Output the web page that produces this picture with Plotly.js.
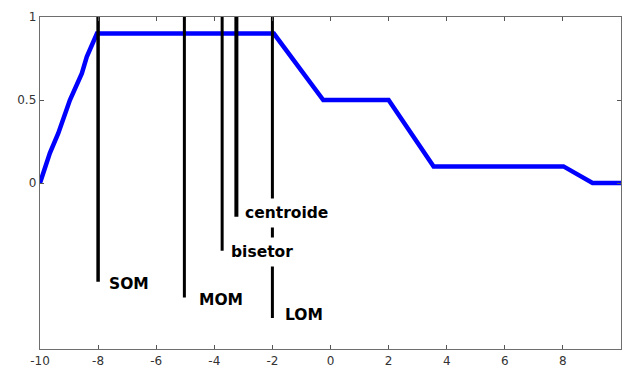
<!DOCTYPE html>
<html>
<head>
<meta charset="utf-8">
<script src="https://cdn.plot.ly/plotly-3.0.1.min.js"></script>
<style>html,body{margin:0;padding:0;background:#fff;}#chart{width:622px;height:365px;}</style>
</head>
<body>
<div id="chart"></div>
<script>
// Aggregated membership function (blue curve)
const curveX = [-10, -9.66, -9.37, -8.97, -8.56, -8.39, -8.04, -1.95, -0.25, 2.0, 3.55, 8.02, 9.02, 10];
const curveY = [0, 0.18, 0.30, 0.5, 0.66, 0.76, 0.9, 0.9, 0.5, 0.5, 0.1, 0.1, 0, 0];

// Defuzzification methods (vertical markers)
const methodNames = ["SOM", "MOM", "bisetor", "centroide", "LOM"];
const methodX = [-8, -5.03, -3.73, -3.24, -2];
const methodTop = [1, 1, 1, 1, 1];
const methodBottom = [-0.595, -0.69, -0.408, -0.203, -0.813];

// tick labels
const xTicks = [-10, -8, -6, -4, -2, 0, 2, 4, 6, 8, 10];
const yTicks = [0, 0.5, 1];
const yTickText = ["0", "0.5", "1"];

const lineWidths = [3.5, 3, 3, 4, 3];
// label offsets (data units) relative to each marker
const labelDx = [1.06, 1.26, 1.36, 1.74, 1.09];
const labelDy = [-0.014, -0.016, -0.006, 0.024, 0.018];

const traces = [{
  x: curveX, y: curveY, type: 'scatter', mode: 'lines',
  line: {color: '#0000ff', width: 4.5}, hoverinfo: 'skip', showlegend: false
}];
methodNames.forEach((n, i) => {
  traces.push({
    x: [methodX[i], methodX[i]], y: [methodTop[i], methodBottom[i]],
    type: 'scatter', mode: 'lines', name: n,
    line: {color: '#000000', width: lineWidths[i]}, showlegend: false
  });
});

const annotations = methodNames.map((n, i) => ({
  x: methodX[i] + labelDx[i], y: methodBottom[i] + labelDy[i],
  xref: 'x', yref: 'y', text: '<b>' + n + '</b>', showarrow: false,
  xanchor: 'center', yanchor: 'middle',
  font: {family: 'DejaVu Sans', size: 15.5, color: '#000'},
  bgcolor: '#ffffff', borderpad: 5
}));

const layout = {
  width: 622, height: 365,
  margin: {l: 40, r: 1, t: 17, b: 16, pad: 0},
  paper_bgcolor: '#ffffff', plot_bgcolor: '#ffffff',
  showlegend: false,
  xaxis: {
    range: [-10, 10], tickvals: xTicks, ticktext: xTicks.map(String),
    showgrid: false, zeroline: false, showline: true, mirror: 'ticks',
    linecolor: '#6e6e6e', linewidth: 1.3, ticks: 'inside', ticklen: 4, tickwidth: 1,
    tickcolor: '#555',
    tickfont: {family: 'DejaVu Sans', size: 12, color: '#333'}
  },
  yaxis: {
    range: [-1, 1], tickvals: yTicks, ticktext: yTickText,
    showgrid: false, zeroline: false, showline: true, mirror: 'ticks',
    linecolor: '#6e6e6e', linewidth: 1.3, ticks: 'inside', ticklen: 4, tickwidth: 1,
    tickcolor: '#555',
    tickfont: {family: 'DejaVu Sans', size: 12, color: '#333'}
  },
  annotations: annotations
};

Plotly.newPlot('chart', traces, layout, {displayModeBar: false, staticPlot: true});
</script>
</body>
</html>
